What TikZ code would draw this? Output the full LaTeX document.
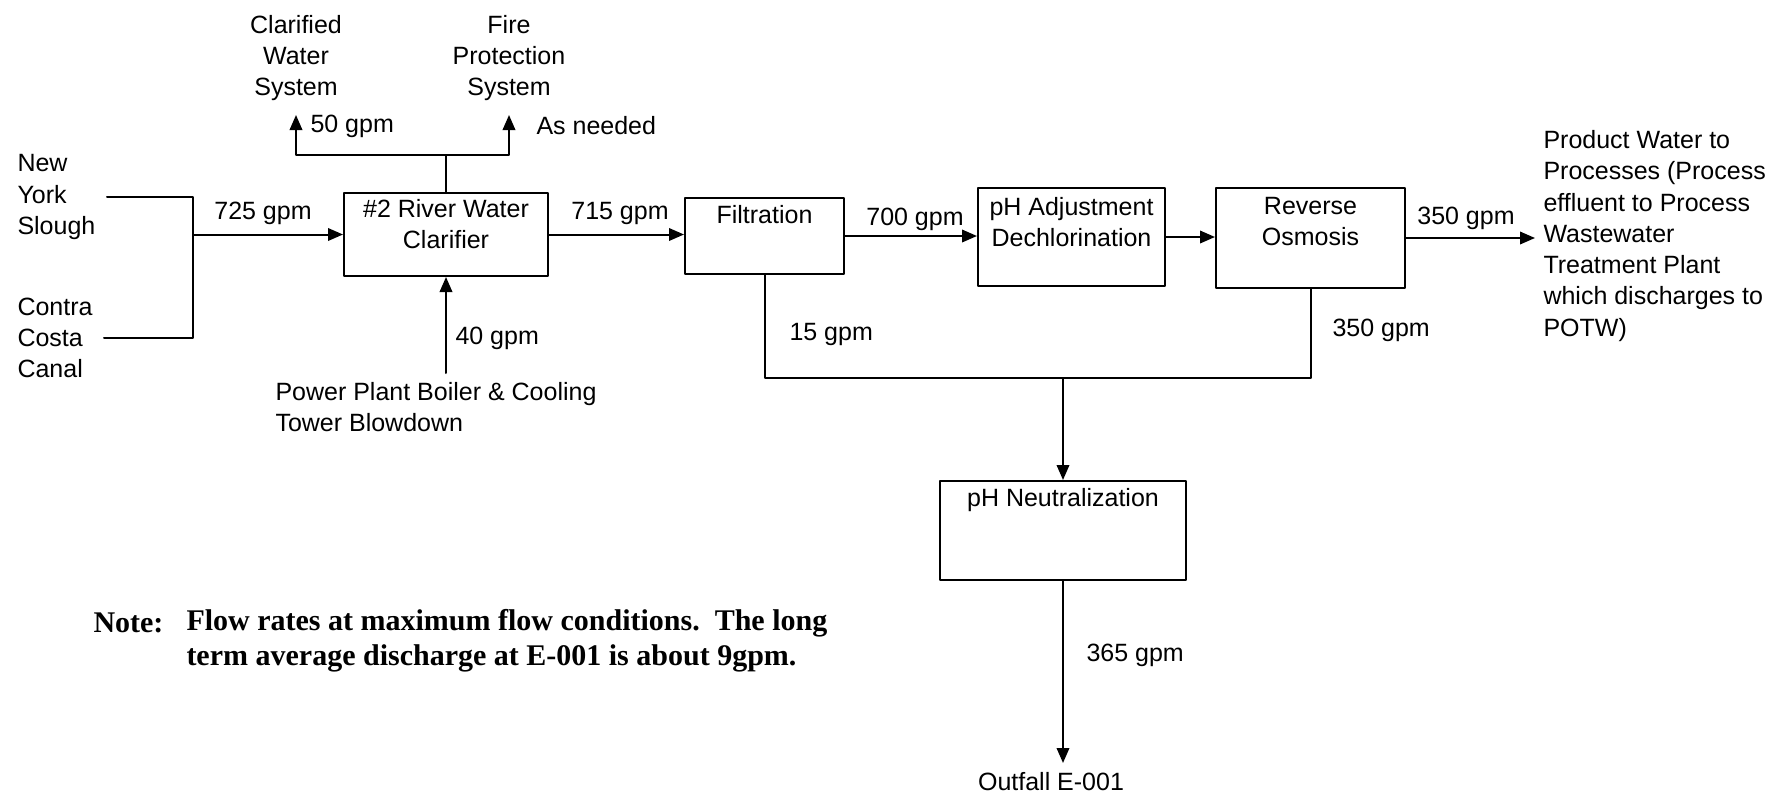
\documentclass[tikz,border=0pt]{standalone}
\usepackage{fontspec}
\setmainfont{Liberation Sans}
\newfontfamily\notefont{Liberation Serif}
\usetikzlibrary{arrows.meta}

\begin{document}
\begin{tikzpicture}[x=0.4pt, y=-0.4pt, line cap=round, line join=round, >={Triangle[length=6pt,width=5pt]},
	box/.style={draw, line width=0.8pt, inner sep=0pt},
	flow/.style={draw, line width=0.8pt},
	lbl/.style={inner sep=0pt, align=center, font=\fontsize{10}{12.5}\selectfont},
	notelbl/.style={inner sep=0pt, font=\notefont\bfseries\fontsize{12}{14}\selectfont}]
			\useasboundingbox (0,0) rectangle (1775,794);
			% units
			\node[box, minimum width=81.6pt, minimum height=33.2pt] (clar) at (446,234.5) {};
			\node[box, minimum width=63.6pt, minimum height=30.4pt] (filt) at (764.5,236) {};
			\node[box, minimum width=74.8pt, minimum height=39.2pt] (phadj) at (1071.5,237) {};
			\node[box, minimum width=75.6pt, minimum height=40pt] (ro) at (1310.5,238) {};
			\node[box, minimum width=98.4pt, minimum height=39.6pt] (neut) at (1063,530.5) {};
			\node[lbl, anchor=north] (clartxt) at ([yshift=-2.8pt]clar.north) {\#2 River Water\\Clarifier};
			\node[lbl, anchor=north] (filttxt) at ([yshift=-3.2pt]filt.north) {Filtration};
			\node[lbl, anchor=north] (phadjtxt) at ([yshift=-4pt]phadj.north) {pH Adjustment\\Dechlorination};
			\node[lbl, anchor=north] (rotxt) at ([yshift=-4pt]ro.north) {Reverse\\Osmosis};
			\node[lbl, anchor=north] (neuttxt) at ([yshift=-3.2pt]neut.north) {pH Neutralization};
			% sources and sinks
			\node[lbl, anchor=west, align=left] (ny) at (17,197) {New\\York\\Slough};
			\node[lbl, anchor=west, align=left] (cc) at (17,338) {Contra\\Costa\\Canal};
			\node[lbl] (cws) at (296,58) {Clarified\\Water\\System};
			\node[lbl] (fps) at (509,58) {Fire\\Protection\\System};
			\node[lbl, anchor=west, align=left] (pp) at (275,407) {Power Plant Boiler \& Cooling\\Tower Blowdown};
			\node[lbl, anchor=west, align=left] (prod) at (1543,236) {Product Water to\\Processes (Process\\effluent to Process\\Wastewater\\Treatment Plant\\which discharges to\\POTW)};
			\node[lbl] (outfall) at (1051,782) {Outfall E-001};
			% free ends
			\coordinate (nyend) at (107,197);
			\coordinate (ccend) at (104,338);
			\coordinate (mix) at (193,234.5);
			\coordinate (topsplit) at (446,155);
			\coordinate (cwtip) at (296,115);
			\coordinate (fptip) at (509,115);
			\coordinate (pptop) at (446,373);
			\coordinate (prodtip) at (1535,238);
			\coordinate (waste) at (1063,378);
			\coordinate (outtip) at (1063,763);
			% flows
			\draw[flow] (nyend) -| (mix) |- (ccend);
			\draw[flow, ->] (mix) -- (clar.west);
			\draw[flow] (clar.north) -- (topsplit);
			\draw[flow, ->] (topsplit) -| (cwtip);
			\draw[flow, ->] (topsplit) -| (fptip);
			\draw[flow, ->] (pptop) -- (clar.south);
			\draw[flow, ->] (clar.east) -- (clar.east -| filt.west);
			\draw[flow, ->] (filt.east) -- (filt.east -| phadj.west);
			\draw[flow, ->] (phadj.east) -- (phadj.east -| ro.west);
			\draw[flow, ->] (ro.east) -- (prodtip);
			\draw[flow] (filt.south) |- (waste) -| (ro.south);
			\draw[flow, ->] (waste) -- (neut.north);
			\draw[flow, ->] (neut.south) -- (outtip);
			% rates
			\node[lbl] (q725) at (263,213) {725 gpm};
			\node[lbl, anchor=west] (q50) at (310,126) {50 gpm};
			\node[lbl, anchor=west] (need) at (536,126) {As needed};
			\node[lbl, anchor=west] (q40) at (455,338) {40 gpm};
			\node[lbl] (q715) at (620,213) {715 gpm};
			\node[lbl] (q700) at (915,219) {700 gpm};
			\node[lbl] (q350a) at (1466,218) {350 gpm};
			\node[lbl, anchor=west] (q15) at (789,334) {15 gpm};
			\node[lbl, anchor=west] (q350b) at (1332,330) {350 gpm};
			\node[lbl, anchor=west] (q365) at (1086,655) {365 gpm};
			% note
			\node[notelbl, anchor=west] (notehd) at (93,623) {Note:};
			\node[notelbl, anchor=west, align=left] (note) at (186,640.5) {Flow rates at maximum flow conditions.\ \ The long\\term average discharge at E-001 is about 9gpm.};
		\end{tikzpicture}
\end{document}
